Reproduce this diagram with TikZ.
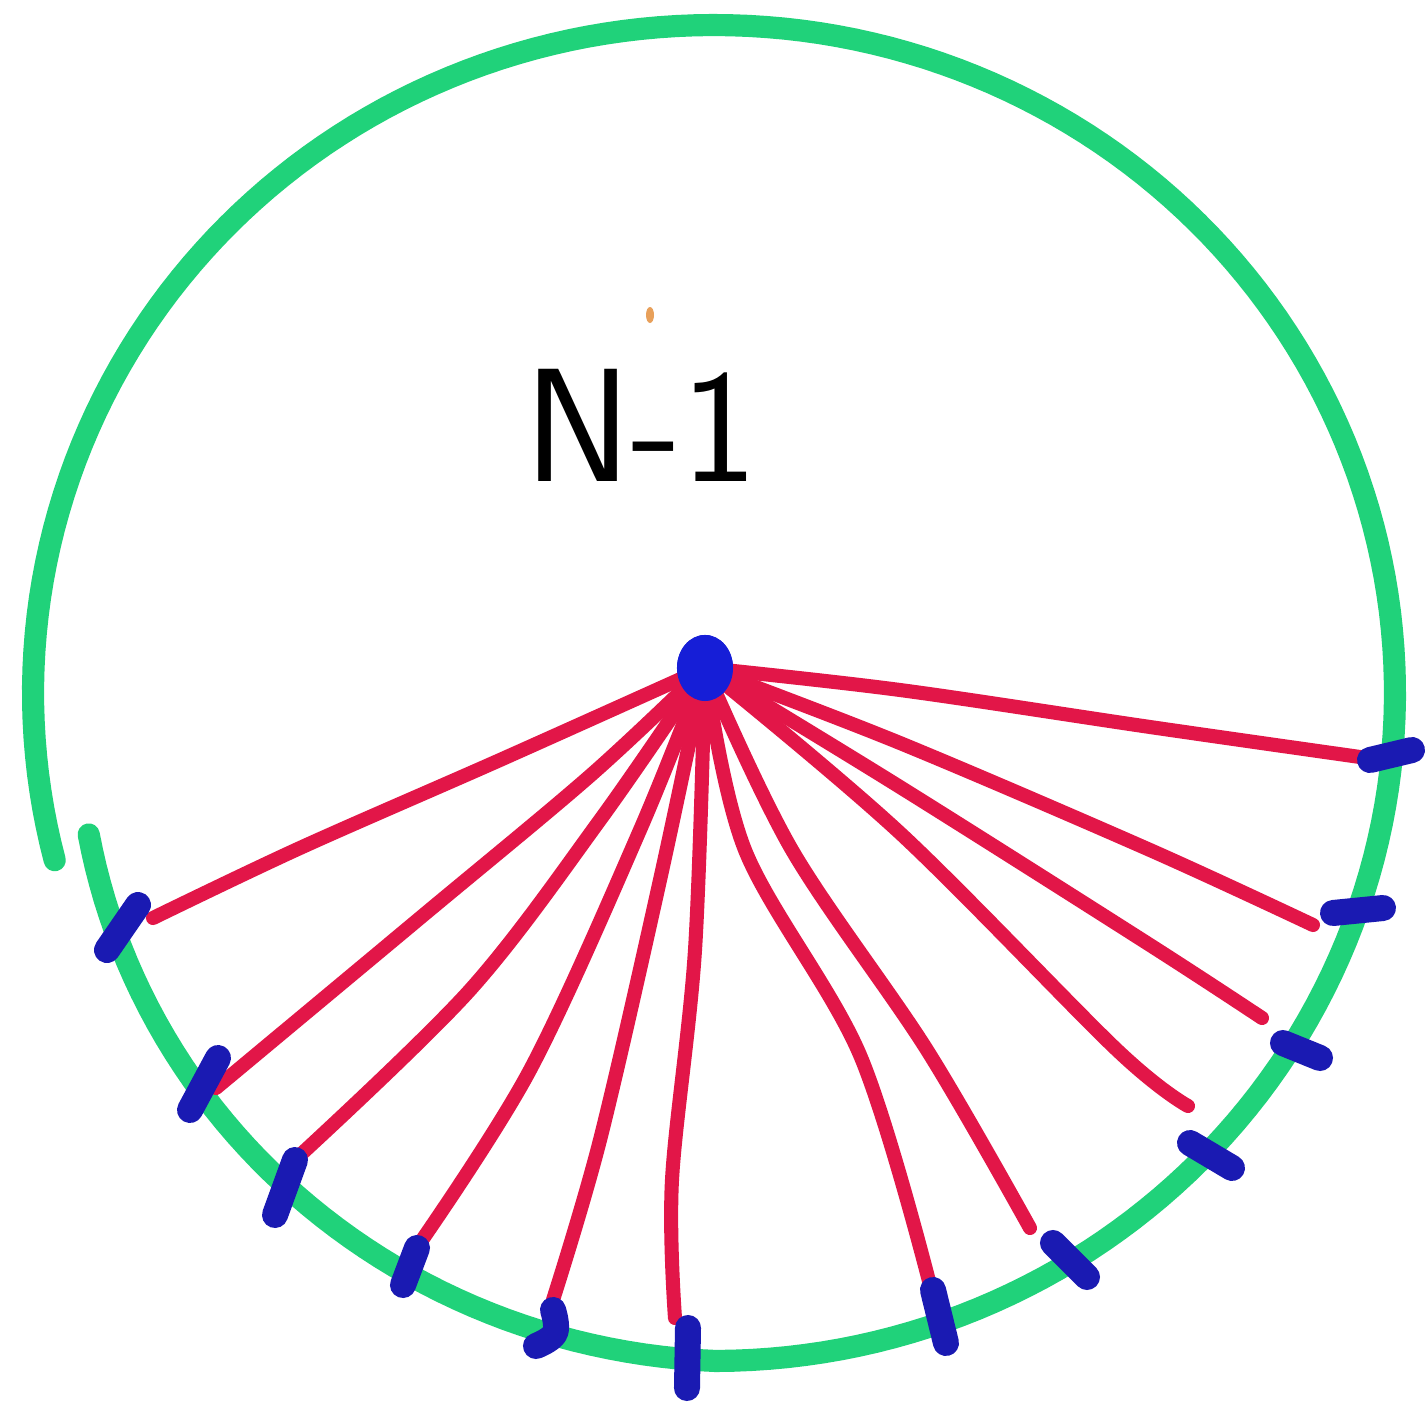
\documentclass[tikz,border=0pt]{standalone}
\usetikzlibrary{shapes.geometric}
\definecolor{ringgreen}{RGB}{32,210,122}
\definecolor{spokered}{RGB}{226,22,72}
\definecolor{markblue}{RGB}{26,26,178}
\definecolor{hubblue}{RGB}{22,30,215}
\definecolor{speck}{RGB}{232,160,90}
\begin{document}
\begin{tikzpicture}[x=0.01cm,y=-0.01cm,
  ring/.style={draw=ringgreen,line width=6.3pt,line cap=round,line join=round},
  spoke/.style={draw=spokered,line width=4pt,line cap=round,line join=round},
  tick/.style={draw=markblue,line width=7.4pt,line cap=round,line join=round},
  hubstyle/.style={ellipse,fill=hubblue,minimum width=0.56cm,minimum height=0.66cm,inner sep=0pt},
  lblstyle/.style={font=\sffamily\fontsize{46}{46}\selectfont,text=black,inner sep=0pt}
]
\useasboundingbox (0,0) rectangle (1426,1403);
\fill[white] (0,0) rectangle (1426,1403);

% green ring, open at the left; the lower-left part runs a little inside
\draw[ring] plot[domain=-167:194.5,samples=240,variable=\t]
  ({714+(681+min(0,\t+90)*0.51)*cos(\t)},{693-(668+min(0,\t+90)*0.51)*sin(\t)});

% hub
\node[hubstyle] (hub) at (705,668) {};

% spoke ends
\coordinate (e1) at (153,918);
\coordinate (e2) at (216,1088);
\coordinate (e3) at (297,1158);
\coordinate (e4) at (420,1243);
\coordinate (e5) at (553,1300);
\coordinate (e6) at (675,1318);
\coordinate (e7) at (930,1285);
\coordinate (e8) at (1030,1228);
\coordinate (e9) at (1188,1106);
\coordinate (e10) at (1262,1018);
\coordinate (e11) at (1313,925);
\coordinate (e12) at (1360,757);

% red spokes
\draw[spoke] plot[smooth,tension=0.55] coordinates {(hub.center) (500,760) (300,848) (e1)};
\draw[spoke] plot[smooth,tension=0.55] coordinates {(hub.center) (591,775) (420,918) (e2)};
\draw[spoke] plot[smooth,tension=0.55] coordinates {(hub.center) (600,820) (470,990) (e3)};
\draw[spoke] plot[smooth,tension=0.55] coordinates {(hub.center) (640,830) (530,1070) (e4)};
\draw[spoke] plot[smooth,tension=0.55] coordinates {(hub.center) (660,880) (600,1140) (e5)};
\draw[spoke] plot[smooth,tension=0.55] coordinates {(hub.center) (695,950) (672,1180) (e6)};
\draw[spoke] plot[smooth,tension=0.55] coordinates {(hub.center) (745,850) (860,1055) (e7)};
\draw[spoke] plot[smooth,tension=0.55] coordinates {(hub.center) (792,850) (927,1050) (e8)};
\draw[spoke] plot[smooth,tension=0.55] coordinates {(hub.center) (900,833) (1117,1050) (e9)};
\draw[spoke] plot[smooth,tension=0.55] coordinates {(hub.center) (900,787) (1150,945) (e10)};
\draw[spoke] plot[smooth,tension=0.55] coordinates {(hub.center) (900,743) (1150,850) (e11)};
\draw[spoke] plot[smooth,tension=0.55] coordinates {(hub.center) (900,690) (1150,727) (e12)};

% blue marks on the ring
\draw[tick] (107,950) -- (138,905);
\draw[tick] (190,1110) -- (218,1058);
\draw[tick] (275,1215) -- (295,1160);
\draw[tick] (403,1285) -- (417,1248);
\draw[tick] plot[smooth,tension=0.7] coordinates {(536,1346) (555,1333) (553,1310)};
\draw[tick] (688,1328) -- (687,1388);
\draw[tick] (933,1290) -- (946,1343);
\draw[tick] (1053,1243) -- (1087,1277);
\draw[tick] (1190,1143) -- (1232,1168);
\draw[tick] (1283,1043) -- (1320,1058);
\draw[tick] (1333,913) -- (1383,908);
\draw[tick] (1370,760) -- (1412,750);

% hub drawn over the spoke roots
\node[hubstyle] (hubtop) at (hub.center) {};

% label and stray speck
\node[lblstyle] (lbl) at (641,425) {N-1};
\fill[speck] (650,315) ellipse [x radius=4, y radius=8];
\end{tikzpicture}
\end{document}
